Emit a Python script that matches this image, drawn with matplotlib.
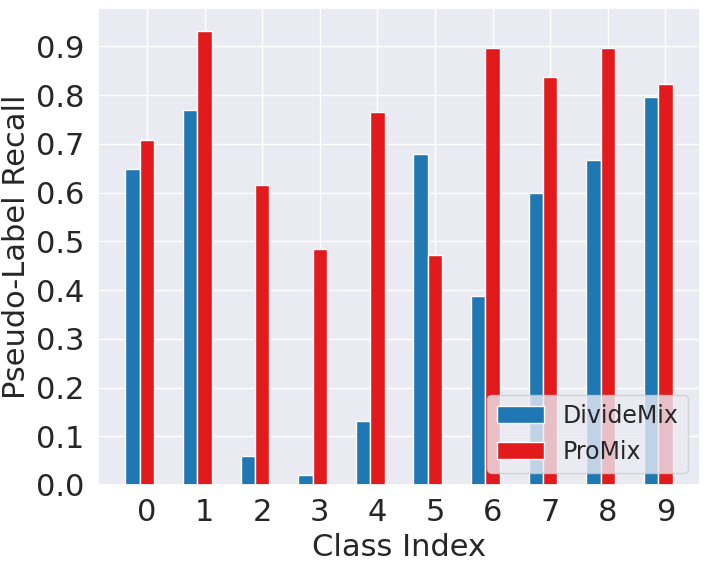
import matplotlib
matplotlib.use("Agg")
import matplotlib.pyplot as plt
import numpy as np
import seaborn as sns

sns.set_theme(style="darkgrid")

classes = list(range(10))
dividemix = [0.649, 0.770, 0.059, 0.020, 0.131, 0.679, 0.388, 0.599, 0.667, 0.796]
promix = [0.708, 0.932, 0.616, 0.484, 0.766, 0.472, 0.897, 0.838, 0.897, 0.823]

x = np.arange(len(classes))
width = 0.25

fig = plt.figure(figsize=(7.08, 5.64), dpi=100)
ax = fig.add_axes([98 / 708, 79 / 564, 602 / 708, 477 / 564])

ax.bar(x - width, dividemix, width, color="#1f77b4", edgecolor="white", label="DivideMix")
ax.bar(x, promix, width, color="#e31a1c", edgecolor="white", label="ProMix")

ax.set_xticks(x)
ax.set_xticklabels([str(c) for c in classes], fontsize=22)
ax.set_yticks(np.arange(0, 1.0, 0.1))
ax.set_yticklabels([f"{v:.1f}" for v in np.arange(0, 1.0, 0.1)], fontsize=22)
ax.set_xlabel("Class Index", fontsize=22)
ax.set_ylabel("Pseudo-Label Recall", fontsize=22)
ax.legend(loc="lower right", fontsize=17)

fig.savefig("out.png", dpi=100)
